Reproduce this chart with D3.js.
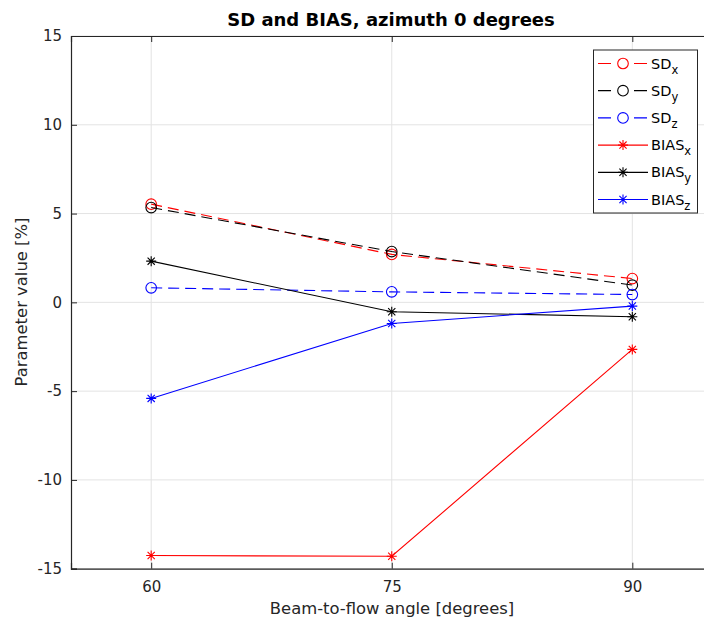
<!DOCTYPE html>
<html><head><meta charset="utf-8">
<script src="https://cdn.jsdelivr.net/npm/d3@7"></script>
<style>body{margin:0;background:#fff}svg{display:block}text{font-family:"DejaVu Sans",sans-serif;fill:#262626}</style>
</head><body><svg id="c" width="704" height="620"></svg>
<script>
const angles = [60, 75, 90];
const xTicks = [60, 75, 90];
const yTicks = [-15, -10, -5, 0, 5, 10, 15];
const sdX = [5.53, 2.7, 1.34];
const sdY = [5.34, 2.86, 0.97];
const sdZ = [0.82, 0.59, 0.44];
const biasX = [-14.26, -14.3, -2.65];
const biasY = [2.32, -0.53, -0.81];
const biasZ = [-5.41, -1.19, -0.21];
const seriesNames = ["SD", "SD", "SD", "BIAS", "BIAS", "BIAS"];
const subs = ["x", "y", "z", "x", "y", "z"];
const colors = ["#ff0000", "#000000", "#0000ff", "#ff0000", "#000000", "#0000ff"];

const series = [sdX, sdY, sdZ, biasX, biasY, biasZ].map((v, i) => ({
  values: v, name: seriesNames[i], sub: subs[i], color: colors[i],
  dashed: i < 3, marker: i < 3 ? "circle" : "star"
}));

const svg = d3.select("#c");
const L = 71, T = 36, B = 568.7, R = 712.5;
const x = d3.scaleLinear().domain([55, 95]).range([L, R]);
const y = d3.scaleLinear().domain([-15, 15]).range([B, T]);
const axisColor = "#262626";

// grid
const g = svg.append("g");
g.selectAll(".gx").data(xTicks).join("line")
  .attr("x1", d => x(d)).attr("x2", d => x(d)).attr("y1", T).attr("y2", B)
  .attr("stroke", "#e3e3e3").attr("stroke-width", 1);
g.selectAll(".gy").data(yTicks).join("line")
  .attr("x1", L).attr("x2", R).attr("y1", d => y(d)).attr("y2", d => y(d))
  .attr("stroke", "#e3e3e3").attr("stroke-width", 1);

// axes
const fmt = d => String(d);
const xAxis = d3.axisBottom(x).tickValues(xTicks).tickSize(-6).tickPadding(13).tickFormat(fmt);
const xAxisTop = d3.axisTop(x).tickValues(xTicks).tickSize(-6).tickFormat("");
const yAxis = d3.axisLeft(y).tickValues(yTicks).tickSize(-6).tickPadding(9).tickFormat(fmt);
function style(sel) {
  sel.select(".domain").attr("stroke", axisColor).attr("stroke-width", 1.2);
  sel.selectAll(".tick line").attr("stroke", axisColor);
  sel.selectAll(".tick text").attr("fill", axisColor).style("font-size", "15px").style("font-family", "DejaVu Sans");
}
svg.append("g").attr("transform", `translate(0,${B})`).call(xAxis).call(style);
svg.append("g").attr("transform", `translate(0,${T})`).call(xAxisTop).call(style);
svg.append("g").attr("transform", `translate(${L},0)`).call(yAxis).call(style);

// series
const line = d3.line().x((d, i) => x(angles[i])).y(d => y(d));
function star() {
  const h = 5, d = 3.6;
  return `M${-h},0L${h},0M0,${-h}L0,${h}M${-d},${-d}L${d},${d}M${-d},${d}L${d},${-d}`;
}
series.forEach(s => {
  svg.append("path").attr("d", line(s.values)).attr("fill", "none")
    .attr("stroke", s.color).attr("stroke-width", 1.1)
    .attr("stroke-dasharray", s.dashed ? "11,6" : null);
  const m = svg.append("g");
  s.values.forEach((v, i) => {
    if (s.marker === "circle") {
      m.append("circle").attr("cx", x(angles[i])).attr("cy", y(v)).attr("r", 5.3)
        .attr("fill", "none").attr("stroke", s.color).attr("stroke-width", 1.1);
    } else {
      m.append("path").attr("transform", `translate(${x(angles[i])},${y(v)})`)
        .attr("d", star()).attr("stroke", s.color).attr("stroke-width", 1.1);
    }
  });
});

// title & labels
svg.append("text").attr("x", 391).attr("y", 26).attr("text-anchor", "middle")
  .style("font-size", "18px").style("font-weight", "bold").style("fill", "#000")
  .text("SD and BIAS, azimuth 0 degrees");
svg.append("text").attr("x", 392).attr("y", 614).attr("text-anchor", "middle")
  .style("font-size", "16.4px").text("Beam-to-flow angle [degrees]");
svg.append("text").attr("transform", `translate(27,302) rotate(-90)`).attr("text-anchor", "middle")
  .style("font-size", "16.4px").text("Parameter value [%]");

// legend
const lg = svg.append("g");
lg.append("rect").attr("x", 593.5).attr("y", 50).attr("width", 104).attr("height", 163)
  .attr("fill", "#fff").attr("stroke", axisColor).attr("stroke-width", 1);
series.forEach((s, i) => {
  const yy = 63.5 + i * 27.2;
  lg.append("line").attr("x1", 598).attr("x2", 648).attr("y1", yy).attr("y2", yy)
    .attr("stroke", s.color).attr("stroke-width", 1.2)
    .attr("stroke-dasharray", s.dashed ? "13,23" : null);
  if (s.marker === "circle") {
    lg.append("circle").attr("cx", 623).attr("cy", yy).attr("r", 5.3)
      .attr("fill", "none").attr("stroke", s.color).attr("stroke-width", 1.1);
  } else {
    lg.append("path").attr("transform", `translate(623,${yy})`).attr("d", star())
      .attr("stroke", s.color).attr("stroke-width", 1.1);
  }
  const t = lg.append("text").attr("x", 651).attr("y", yy + 5).style("font-size", "14.5px").style("fill", "#000");
  t.append("tspan").text(s.name);
  t.append("tspan").attr("dy", 5).style("font-size", "11.5px").text(s.sub);
});
</script></body></html>
